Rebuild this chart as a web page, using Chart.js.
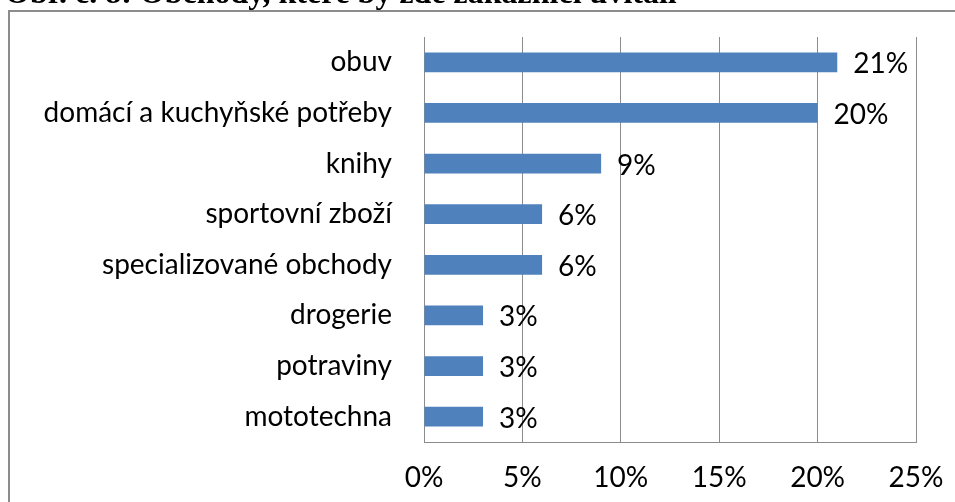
<!DOCTYPE html>
<html><head><meta charset="utf-8">
<script src="https://cdn.jsdelivr.net/npm/chart.js@4"></script>
<style>html,body{margin:0;padding:0;background:#fff;}#wrap{position:relative;width:955px;height:502px;overflow:hidden;}</style>
</head><body><div id="wrap"><canvas id="c" width="955" height="502"></canvas></div>
<script>
const categories = ["obuv", "domácí a kuchyňské potřeby", "knihy", "sportovní zboží", "specializované obchody", "drogerie", "potraviny", "mototechna"];
const values = [21, 20, 9, 6, 6, 3, 3, 3];
const xTickMin = 0, xTickMax = 25, xTickStep = 5;
const titleText = "Obr. č. 8: Obchody, které by zde zákazníci uvítali";

const FONT = "Lato, 'Open Sans', sans-serif";
const FS = 28;
const decor = {
  id: 'decor',
  beforeDraw(chart) {
    const ctx = chart.ctx;
    ctx.save();
    ctx.strokeStyle = '#8c8c8c';
    ctx.lineWidth = 2;
    ctx.beginPath();
    ctx.moveTo(9, 502); ctx.lineTo(9, 11); ctx.lineTo(955, 11);
    ctx.stroke();
    ctx.fillStyle = '#000';
    ctx.font = "bold 32px 'Liberation Serif', 'Times New Roman', serif";
    ctx.textAlign = 'left';
    ctx.textBaseline = 'alphabetic';
    ctx.fillText(titleText, 5, 3);
    ctx.restore();
  },
  afterDatasetsDraw(chart) {
    const ctx = chart.ctx;
    const meta = chart.getDatasetMeta(0);
    ctx.save();
    ctx.fillStyle = '#000';
    ctx.font = FS + "px " + FONT;
    ctx.textAlign = 'left';
    ctx.textBaseline = 'middle';
    meta.data.forEach((bar, i) => {
      ctx.fillText(values[i] + '%', bar.x + 16, bar.y + 2);
    });
    ctx.restore();
  }
};

new Chart(document.getElementById('c'), {
  type: 'bar',
  data: {
    labels: categories,
    datasets: [{
      data: values,
      backgroundColor: '#4F81BD',
      borderWidth: 0,
      barPercentage: 0.39,
      categoryPercentage: 1
    }]
  },
  options: {
    indexAxis: 'y',
    responsive: false,
    animation: false,
    devicePixelRatio: 1,
    layout: { padding: { left: 0, top: 37, right: 39, bottom: 0 } },
    plugins: { legend: { display: false }, tooltip: { enabled: false } },
    scales: {
      x: {
        min: xTickMin, max: xTickMax,
        ticks: { stepSize: xTickStep, callback: v => v + '%', color: '#000', font: { family: FONT, size: FS }, padding: 19, maxRotation: 0 },
        grid: { color: '#8c8c8c', drawTicks: false, lineWidth: 1 },
        border: { color: '#8c8c8c', width: 1 },
        afterFit: s => { s.height = 60; s.paddingLeft = 0; s.paddingRight = 0; }
      },
      y: {
        ticks: { color: '#000', font: { family: FONT, size: FS }, padding: 32 },
        grid: { display: false, drawTicks: false },
        border: { color: '#8c8c8c', width: 1 },
        afterFit: s => { s.width = 424; s.paddingTop = 0; s.paddingBottom = 0; }
      }
    }
  },
  plugins: [decor]
});
</script>
</body></html>
